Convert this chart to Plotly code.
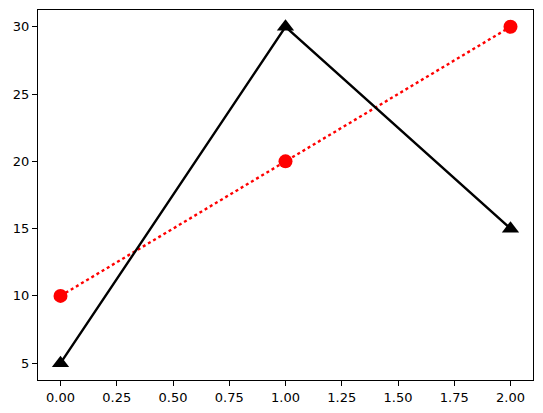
import plotly.graph_objects as go

x_values = [0, 1, 2]
red_values = [10, 20, 30]
black_values = [5, 30, 15]

fig = go.Figure()

# red dotted line with circles
fig.add_trace(
    go.Scatter(
        x=x_values,
        y=red_values,
        mode="lines+markers",
        line=dict(color="red", width=2.4, dash="dot"),
        marker=dict(symbol="circle", size=14, color="red"),
        showlegend=False,
    )
)

# black solid line with triangles
fig.add_trace(
    go.Scatter(
        x=x_values,
        y=black_values,
        mode="lines+markers",
        line=dict(color="black", width=2.4),
        marker=dict(symbol="triangle-up", size=15, color="black"),
        showlegend=False,
    )
)

axis_style = dict(
    showgrid=False,
    zeroline=False,
    showline=True,
    linecolor="black",
    linewidth=1,
    mirror=True,
    ticks="outside",
    ticklen=5,
    tickcolor="black",
    automargin=False,
    tickfont=dict(family="DejaVu Sans", size=13, color="black"),
)

# page body adds an 8px offset, so the figure is a bit smaller
fig.update_layout(
    width=535,
    height=405,
    margin=dict(l=30, r=10, t=2, b=33),
    plot_bgcolor="white",
    paper_bgcolor="white",
    xaxis=dict(range=[-0.1, 2.1], tickvals=[0, 0.25, 0.5, 0.75, 1, 1.25, 1.5, 1.75, 2],
               ticktext=["0.00", "0.25", "0.50", "0.75", "1.00", "1.25", "1.50", "1.75", "2.00"],
               **axis_style),
    yaxis=dict(range=[3.75, 31.25], tickvals=[5, 10, 15, 20, 25, 30], **axis_style),
)

fig.write_html("out.html")
